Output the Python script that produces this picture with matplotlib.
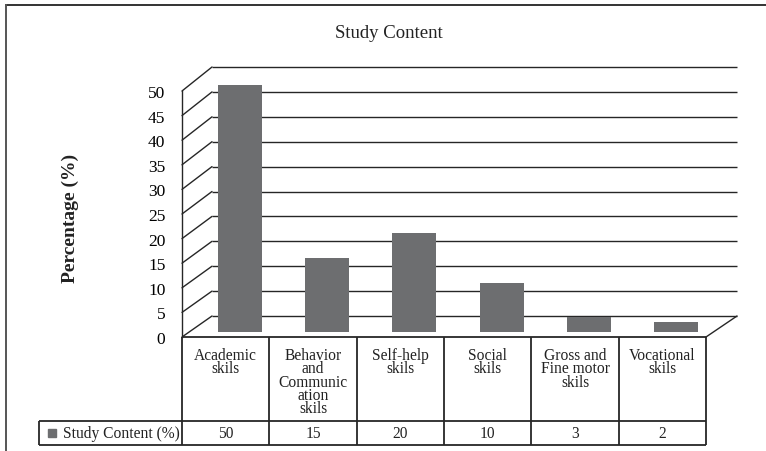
import matplotlib
matplotlib.use("Agg")
import matplotlib.pyplot as plt
from matplotlib.patches import ConnectionPatch
from matplotlib.lines import Line2D

# ---- data ----
categories = ["Academic\nskils", "Behavior\nand\nCommunic\nation\nskils", "Self-help\nskils",
              "Social\nskils", "Gross and\nFine motor\nskils", "Vocational\nskils"]
values = [50, 15, 20, 10, 3, 2]
yticks = [0, 5, 10, 15, 20, 25, 30, 35, 40, 45, 50]
series_name = "Study Content (%)"
title = "Study Content"
ylabel = "Percentage (%)"

plt.rcParams['font.family'] = ['Liberation Serif', 'DejaVu Serif']

W, H = 766, 452
fig = plt.figure(figsize=(W / 100, H / 100), dpi=100)
fig.patch.set_facecolor('white')

def rect(l, r, top, bottom):
    # pixel box (image coords, y down) -> figure fraction
    return [l / W, 1 - bottom / H, (r - l) / W, (bottom - top) / H]

LC = '#262626'
LW = 1.0
BAR_C = '#6d6e70'
n = len(categories)
xs = list(range(n))

# back wall (gridlines)
bax = fig.add_axes(rect(212, 737, 68, 317))
bax.set_xlim(-0.5, n - 0.5)
bax.set_ylim(0, 50)
bax.axis('off')
bax.hlines(yticks, -0.5, n - 0.5, color=LC, lw=LW, clip_on=False)

# bar plane
barax = fig.add_axes(rect(196, 720, 86, 333))
barax.set_xlim(-0.5, n - 0.5)
barax.set_ylim(0, 50)
barax.axis('off')
barax.patch.set_alpha(0)
barax.bar(xs, values, width=0.505, color=BAR_C, linewidth=0)

# front plane (axis)
ax = fig.add_axes(rect(182, 706, 92, 338))
ax.set_xlim(-0.5, n - 0.5)
ax.set_ylim(0, 50)
ax.patch.set_alpha(0)
for s in ['top', 'right', 'bottom']:
    ax.spines[s].set_visible(False)
ax.spines['left'].set_color(LC)
ax.spines['left'].set_linewidth(LW)
ax.set_xticks([])
ax.set_yticks(yticks)
ax.set_yticklabels([str(t) for t in yticks], fontsize=12.5)
ax.tick_params(axis='y', length=0, pad=12)

# diagonals of the side wall
for v in yticks:
    cp = ConnectionPatch(xyA=(-0.5, v), coordsA=ax.transData,
                         xyB=(-0.5, v), coordsB=bax.transData,
                         color=LC, lw=LW)
    fig.add_artist(cp)
cp = ConnectionPatch(xyA=(n - 0.5, 0), coordsA=ax.transData,
                     xyB=(n - 0.5, 0), coordsB=bax.transData,
                     color=LC, lw=LW)
fig.add_artist(cp)

# data table
xl = -0.5 - 143 / 87.33
tax = fig.add_axes(rect(39, 706, 338, 446))
tax.set_xlim(xl, n - 0.5)
tax.set_ylim(0, 108)
tax.axis('off')
TLW = 1.3
tax.hlines(108, -0.5, n - 0.5, color=LC, lw=TLW, clip_on=False)
tax.vlines([k - 0.5 for k in range(n + 1)], 0, 108, color=LC, lw=TLW, clip_on=False)
tax.hlines([0, 24], xl, n - 0.5, color=LC, lw=TLW, clip_on=False)
tax.vlines(xl, 0, 24, color=LC, lw=TLW, clip_on=False)
for k, (c, v) in enumerate(zip(categories, values)):
    tax.text(k, 98, c, ha='center', va='top', multialignment='center',
             fontsize=11.2, linespacing=0.78, color='#222222')
    tax.text(k, 11.5, str(v), ha='center', va='center', fontsize=11.2, color='#222222')
tax.plot([xl + 13 / 87.33], [12], marker='s', ms=6, color=BAR_C, clip_on=False)
tax.text(xl + 24 / 87.33, 11.5, series_name, ha='left', va='center', fontsize=11.2, color='#222222')

# title and axis label
fig.text(389 / W, 1 - 38 / H, title, ha='center', va='baseline', fontsize=13.5, color='#222222')
fig.text(70 / W, 1 - 218 / H, ylabel, ha='center', va='center', rotation=90,
         fontsize=14, fontweight='bold', color='#222222')

# outer frame (top and left edges)
fig.add_artist(Line2D([6 / W, 1.0], [1 - 6 / H, 1 - 6 / H], color='#333333', lw=1.4,
                      transform=fig.transFigure))
fig.add_artist(Line2D([6 / W, 6 / W], [1 - 6 / H, 0.0], color='#555555', lw=1.4,
                      transform=fig.transFigure))

fig.savefig("out.png", dpi=100)
